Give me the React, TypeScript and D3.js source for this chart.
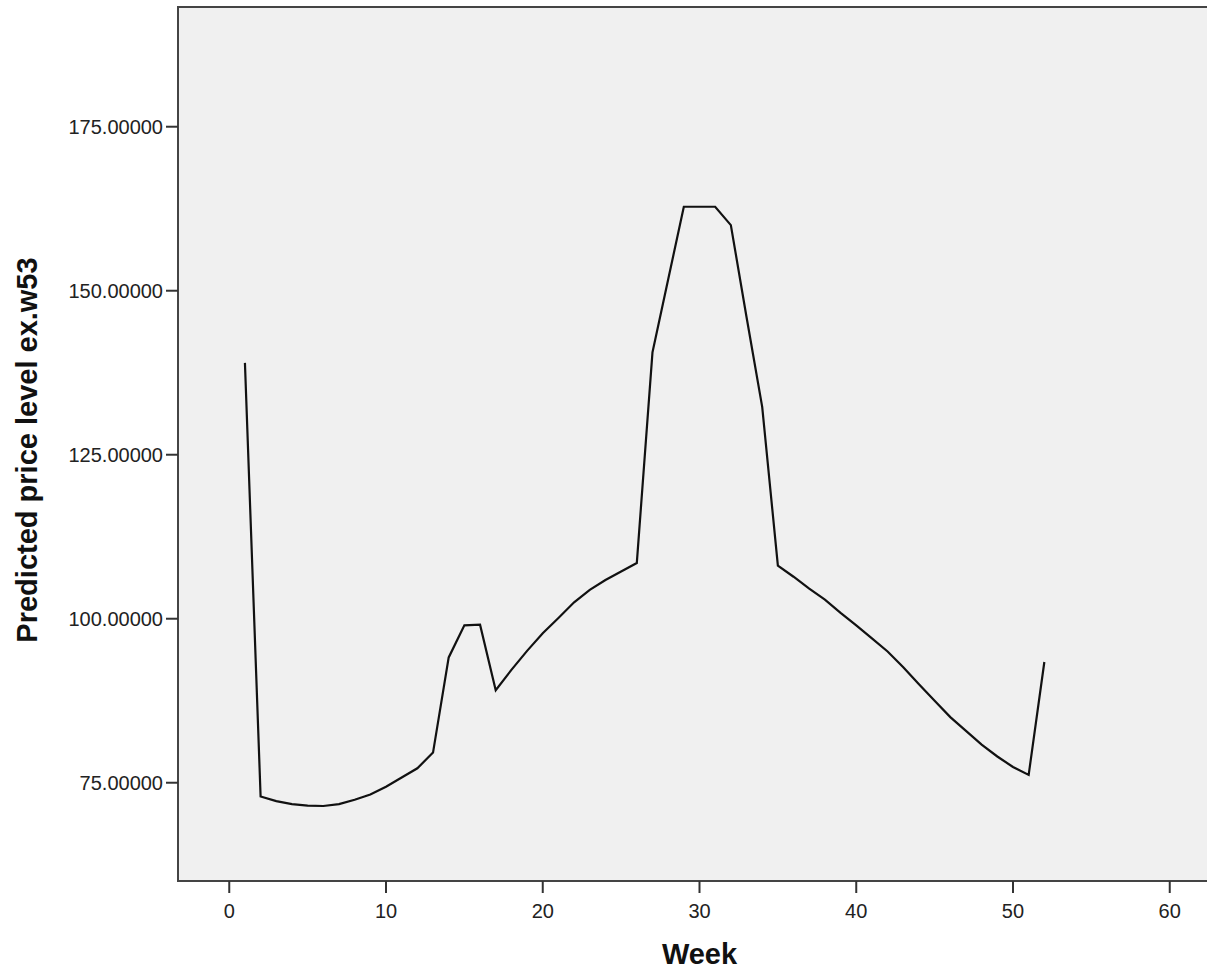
import React from "react";
import * as d3 from "d3";

const weeks = [
  1, 2, 3, 4, 5, 6, 7, 8, 9, 10, 11, 12, 13, 14, 15, 16, 17, 18, 19, 20, 21, 22, 23, 24, 25, 26,
  27, 28, 29, 30, 31, 32, 33, 34, 35, 36, 37, 38, 39, 40, 41, 42, 43, 44, 45, 46, 47, 48, 49, 50, 51, 52,
];
const predicted = [
  139.0, 72.9, 72.2, 71.75, 71.5, 71.45, 71.75, 72.4, 73.2, 74.4, 75.8, 77.2, 79.6, 94.1, 99.0, 99.1,
  89.1, 92.2, 95.1, 97.8, 100.1, 102.5, 104.4, 105.9, 107.2, 108.5,
  140.6, 151.7, 162.8, 162.8, 162.8, 160.0, 146.0, 132.3, 108.1, 106.4, 104.6, 102.9, 100.9, 99.0,
  97.0, 95.0, 92.6, 90.0, 87.5, 85.0, 82.9, 80.8, 79.0, 77.4, 76.2, 93.4,
];
const xTicks = [0, 10, 20, 30, 40, 50, 60];
const yTicks = [75, 100, 125, 150, 175];
const xTitle = "Week";
const yTitle = "Predicted price level ex.w53";

const W = 1207;
const H = 970;
const left = 178;
const top = 7;
const right = 1221;
const bottom = 881;

export default function App() {
  const x = d3.scaleLinear().domain([-3.27, 63.27]).range([left, right]);
  const y = d3.scaleLinear().domain([60.02, 193.25]).range([bottom, top]);
  const pts: [number, number][] = weeks.map((w, i) => [w, predicted[i]]);
  const line = d3
    .line<[number, number]>()
    .x((d) => x(d[0]))
    .y((d) => y(d[1]));
  const font = "'Liberation Sans', Arial, sans-serif";
  return (
    <svg
      width={W}
      height={H}
      style={{ position: "absolute", left: 0, top: 0, display: "block" }}
      fontFamily={font}
    >
      <rect x={0} y={0} width={W} height={H} fill="#ffffff" />
      <rect
        x={left}
        y={top}
        width={right - left}
        height={bottom - top}
        fill="#f0f0f0"
        stroke="#444444"
        strokeWidth={2}
      />
      <path d={line(pts) || ""} fill="none" stroke="#111111" strokeWidth={2.2} strokeLinejoin="miter" />
      {xTicks.map((t) => (
        <g key={"x" + t}>
          <line x1={x(t)} x2={x(t)} y1={bottom} y2={bottom + 12} stroke="#333333" strokeWidth={2} />
          <text x={x(t)} y={918} fontSize={20} textAnchor="middle" fill="#222222">
            {t}
          </text>
        </g>
      ))}
      {yTicks.map((t) => (
        <g key={"y" + t}>
          <line x1={left - 12} x2={left} y1={y(t)} y2={y(t)} stroke="#333333" strokeWidth={2} />
          <text x={163} y={y(t)} dy="0.36em" fontSize={20} textAnchor="end" fill="#222222">
            {t.toFixed(5)}
          </text>
        </g>
      ))}
      <text x={(left + right) / 2} y={964} fontSize={29} fontWeight="bold" textAnchor="middle" fill="#111111">
        {xTitle}
      </text>
      <text
        transform={`translate(37, 450) rotate(-90)`}
        fontSize={29}
        fontWeight="bold"
        textAnchor="middle"
        fill="#111111"
      >
        {yTitle}
      </text>
    </svg>
  );
}
